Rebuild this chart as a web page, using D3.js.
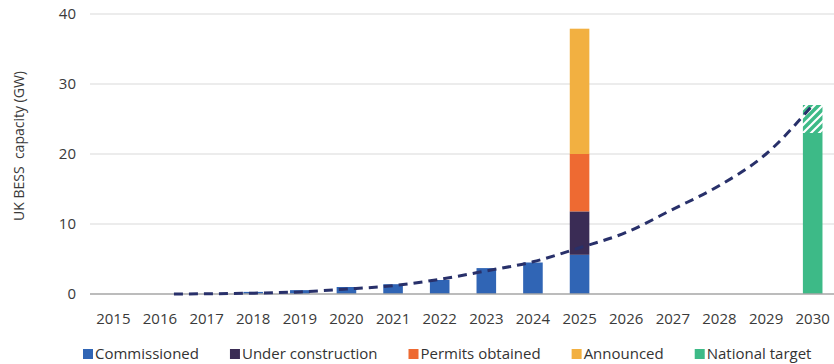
<!DOCTYPE html>
<html>
<head>
<meta charset="utf-8">
<script src="https://cdn.jsdelivr.net/npm/d3@7"></script>
<style>
  html, body { margin: 0; padding: 0; background: #fff; }
  svg { display: block; font-family: "Open Sans", "Noto Sans", sans-serif; }
</style>
</head>
<body>
<svg id="chart" width="834" height="364"></svg>
<script>
// Years on the x axis
const years = [2015, 2016, 2017, 2018, 2019, 2020, 2021, 2022, 2023, 2024, 2025, 2026, 2027, 2028, 2029, 2030];

// Commissioned capacity by year (GW)
const commissionedYears = [2018, 2019, 2020, 2021, 2022, 2023, 2024, 2025];
const commissioned = [0.3, 0.55, 1.0, 1.4, 2.0, 3.7, 4.5, 5.6];

// 2025 pipeline stacked on top of commissioned (GW)
const pipelineYear = 2025;
const underConstruction = 6.2;
const permitsObtained = 8.2;
const announced = 17.9;

// 2030 national target: firm part and range top (GW)
const targetYear = 2030;
const targetLow = 23;
const targetHigh = 27;

// Trajectory curve (dashed)
const trendYears = [2016.3, 2017, 2018, 2019, 2020, 2021, 2022, 2023, 2024, 2025, 2026, 2027, 2028, 2029, 2030];
const trendValues = [0, 0.03, 0.12, 0.3, 0.7, 1.2, 2.1, 3.3, 4.6, 6.6, 8.8, 12.1, 15.5, 20.0, 27.0];

const yTicks = [0, 10, 20, 30, 40];

const seriesNames = ["Commissioned", "Under construction", "Permits obtained", "Announced", "National target"];
const seriesColors = ["#3065b5", "#3a2c55", "#ee6a32", "#f2b041", "#3dba87"];
const color = d3.scaleOrdinal(seriesNames, seriesColors);

const svg = d3.select("#chart");

const x = d3.scaleBand()
  .domain(years)
  .range([90, 836])
  .paddingInner(0.58)
  .paddingOuter(0.29);

const y = d3.scaleLinear().domain([0, 40]).range([294, 14]);

const step = x.step();
const bw = x.bandwidth();
const cx = yr => x(years[0]) + bw / 2 + (yr - years[0]) * step;

// Hatch pattern for the upper part of the target range
const defs = svg.append("defs");
const pat = defs.append("pattern")
  .attr("id", "targetHatch")
  .attr("patternUnits", "userSpaceOnUse")
  .attr("width", 8).attr("height", 8);
pat.append("rect").attr("width", 8).attr("height", 8).attr("fill", color("National target"));
pat.append("path")
  .attr("d", "M-2,2 l4,-4 M0,8 l8,-8 M6,10 l4,-4")
  .attr("stroke", "#fff")
  .attr("stroke-width", 2.2);

// Gridlines
svg.append("g")
  .selectAll("line")
  .data(yTicks.filter(d => d > 0))
  .join("line")
  .attr("x1", 90).attr("x2", 834)
  .attr("y1", d => y(d)).attr("y2", d => y(d))
  .attr("stroke", "#d9d9d9")
  .attr("stroke-width", 1.2);

// Y axis labels
const yAxis = d3.axisLeft(y).tickValues(yTicks).tickSize(0).tickPadding(0);
const yG = svg.append("g").attr("transform", "translate(76,0)").call(yAxis);
yG.select(".domain").remove();
yG.selectAll("text")
  .attr("font-size", 15)
  .attr("fill", "#3a3a3a")
  .attr("font-family", "Open Sans, sans-serif");

// Y axis title
svg.append("text")
  .attr("transform", `translate(24,${y(20) - 8}) rotate(-90)`)
  .attr("text-anchor", "middle")
  .attr("font-size", 14)
  .attr("fill", "#3a3a3a")
  .attr("xml:space", "preserve")
  .style("white-space", "pre")
  .text("UK BESS  capacity (GW)");

// Commissioned bars
svg.append("g")
  .selectAll("rect")
  .data(commissionedYears.map((yr, i) => ({ yr, v: commissioned[i] })))
  .join("rect")
  .attr("x", d => x(d.yr))
  .attr("width", bw)
  .attr("y", d => y(d.v))
  .attr("height", d => y(0) - y(d.v))
  .attr("fill", color("Commissioned"));

// 2025 pipeline stack
const base2025 = commissioned[commissionedYears.indexOf(pipelineYear)];
const stackParts = [
  { name: "Under construction", v: underConstruction },
  { name: "Permits obtained", v: permitsObtained },
  { name: "Announced", v: announced }
];
let acc = base2025;
stackParts.forEach(p => { p.y0 = acc; acc += p.v; p.y1 = acc; });
svg.append("g")
  .selectAll("rect")
  .data(stackParts)
  .join("rect")
  .attr("x", x(pipelineYear))
  .attr("width", bw)
  .attr("y", d => y(d.y1))
  .attr("height", d => y(d.y0) - y(d.y1))
  .attr("fill", d => color(d.name));

// 2030 national target
const tg = svg.append("g");
tg.append("rect")
  .attr("x", x(targetYear)).attr("width", bw)
  .attr("y", y(targetLow)).attr("height", y(0) - y(targetLow))
  .attr("fill", color("National target"));
tg.append("rect")
  .attr("x", x(targetYear)).attr("width", bw)
  .attr("y", y(targetHigh)).attr("height", y(targetLow) - y(targetHigh))
  .attr("fill", "url(#targetHatch)");

// Zero baseline
svg.append("line")
  .attr("x1", 90).attr("x2", 834)
  .attr("y1", y(0)).attr("y2", y(0))
  .attr("stroke", "#a6a6a6")
  .attr("stroke-width", 1.5);

// Trajectory
const line = d3.line()
  .x(d => cx(d[0]))
  .y(d => y(d[1]))
  .curve(d3.curveMonotoneX);
svg.append("path")
  .datum(trendYears.map((yr, i) => [yr, trendValues[i]]))
  .attr("d", line)
  .attr("fill", "none")
  .attr("stroke", "#28306a")
  .attr("stroke-width", 3)
  .attr("stroke-dasharray", "9,6");

// X axis labels
const xAxis = d3.axisBottom(x).tickSize(0).tickPadding(0);
const xG = svg.append("g").attr("transform", `translate(0,${y(0)})`).call(xAxis);
xG.select(".domain").remove();
xG.selectAll("text")
  .attr("y", 30)
  .attr("dy", 0)
  .attr("font-size", 15)
  .attr("fill", "#3a3a3a")
  .attr("font-family", "Open Sans, sans-serif");

// Legend
const legend = svg.append("g").attr("transform", "translate(83,0)");
let lx = 0;
seriesNames.forEach(name => {
  const g = legend.append("g").attr("transform", `translate(${lx},0)`);
  g.append("rect")
    .attr("x", 0).attr("y", 349)
    .attr("width", 10).attr("height", 10)
    .attr("fill", color(name));
  const t = g.append("text")
    .attr("x", 12).attr("y", 359)
    .attr("font-size", 15)
    .attr("fill", "#333")
    .text(name);
  lx += 12 + t.node().getComputedTextLength() + 31;
});
</script>
</body>
</html>
